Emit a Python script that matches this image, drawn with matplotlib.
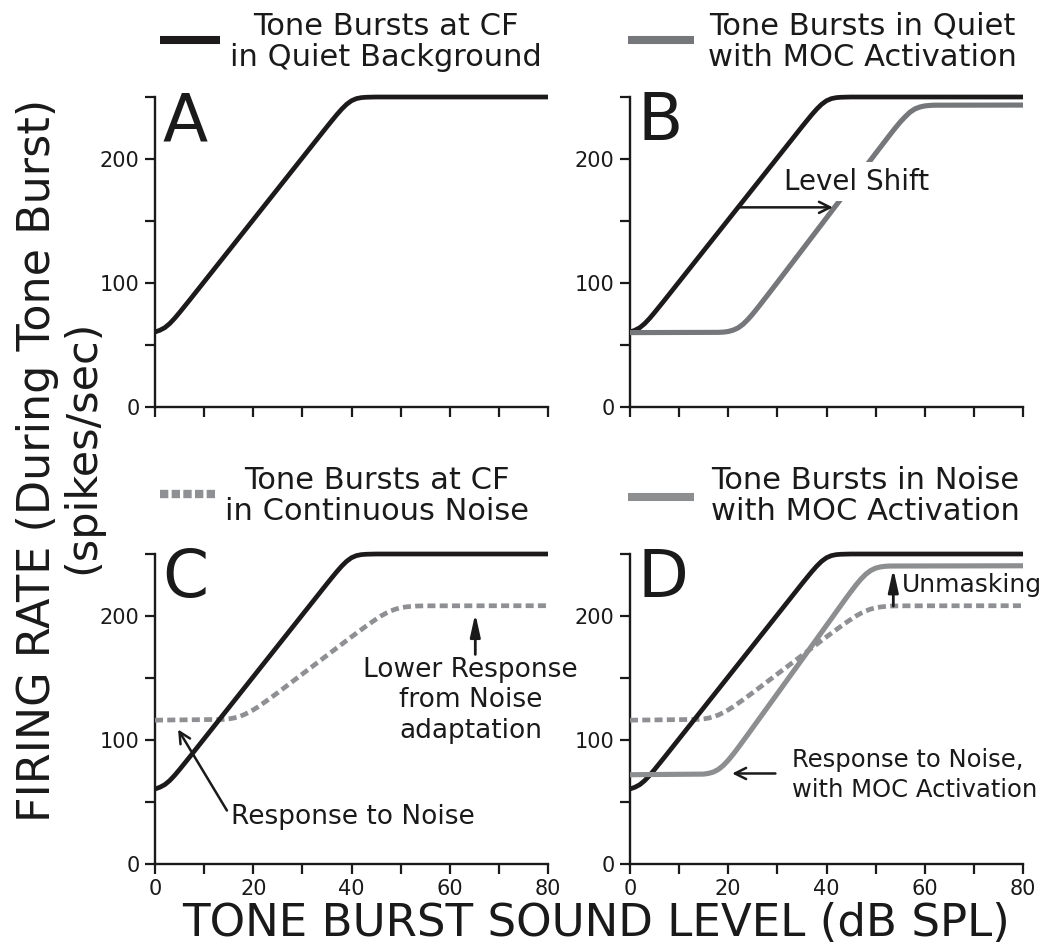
import numpy as np
import matplotlib
matplotlib.use("Agg")
import matplotlib.pyplot as plt
from matplotlib.lines import Line2D

plt.rcParams["font.family"] = ["DejaVu Sans"]

# ---- rate-level functions (dB SPL -> spikes/sec) ----
level_quiet = [0, 1, 2, 3, 4, 5, 6, 7, 8, 10, 20, 30, 35, 36, 37, 38, 39, 40, 41, 42, 43, 44,
               45, 80]
rate_quiet = [60.5, 61.9, 64, 67.3, 71.5, 76.2, 81.1, 86, 91, 101, 151, 201, 226, 230.9, 235.7,
              240.2, 244.1, 247, 248.7, 249.5, 249.8, 249.9, 250, 250]

level_moc_quiet = [0, 18, 19, 20, 21, 22, 23, 24, 25, 26, 27, 28, 30, 40, 50, 53, 54, 55, 56, 57,
                   58, 59, 60, 61, 62, 80]
rate_moc_quiet = [60, 60.2, 60.4, 60.9, 62, 63.8, 66.7, 70.6, 75.1, 80, 85.1, 90.2, 100.5, 152.5,
                  204.5, 220, 225, 229.8, 234, 237.8, 240.4, 241.9, 242.8, 243.2, 243.4, 243.5]

level_noise = [0, 14, 15, 16, 17, 18, 19, 20, 21, 22, 23, 24, 25, 30, 40, 43, 44, 45, 46, 47, 48,
               49, 50, 51, 52, 53, 55, 80]
rate_noise = [116, 116.6, 117, 117.7, 118.7, 120.2, 122.1, 124.3, 126.8, 129.6, 132.4, 135.3,
              138.2, 153.2, 183.2, 191.9, 194.7, 197.4, 200, 202.2, 204.1, 205.6, 206.6, 207.3,
              207.7, 208, 208.2, 208.3]

level_moc_noise = [0, 15, 16, 17, 18, 19, 20, 21, 22, 23, 24, 25, 30, 40, 44, 45, 46, 47, 48, 49,
                   50, 51, 52, 53, 80]
rate_moc_noise = [72, 72.5, 73.1, 74.2, 76.3, 79.5, 83.7, 88.5, 93.7, 99.1, 104.5, 110, 137.4,
                  192.4, 214.5, 219.8, 225, 229.7, 233.7, 236.7, 238.6, 239.6, 240.1, 240.3,
                  240.5]

x_ticks = [0, 10, 20, 30, 40, 50, 60, 70, 80]
x_ticklabels = ["0", "", "20", "", "40", "", "60", "", "80"]
y_ticks = [0, 50, 100, 150, 200, 250]
y_ticklabels = ["0", "", "100", "", "200", ""]

panel_letters = ["A", "B", "C", "D"]
header_texts = ["Tone Bursts at CF\nin Quiet Background",
                "Tone Bursts in Quiet\nwith MOC Activation",
                "Tone Bursts at CF\nin Continuous Noise",
                "Tone Bursts in Noise\nwith MOC Activation"]

BLACK = "#1c1a1b"
GRAY_B = "#76777a"
GRAY_D = "#8d8e90"
GRAY_DASH = "#8f9093"
TXT = "#1a1a1a"

W, H = 1050, 949
fig = plt.figure(figsize=(W / 100, H / 100), dpi=100)


def fx(px):
    return px / W


def fy(py):
    return 1 - py / H


axw, axh = 393 / W, 310 / H
axA = fig.add_axes([fx(155), fy(407), axw, axh])
axB = fig.add_axes([fx(630), fy(407), axw, axh])
axC = fig.add_axes([fx(155), fy(864), axw, axh])
axD = fig.add_axes([fx(630), fy(864), axw, axh])
axes = [axA, axB, axC, axD]

for i, ax in enumerate(axes):
    ax.set_xlim(0, 80)
    ax.set_ylim(0, 250)
    for s in ("top", "right"):
        ax.spines[s].set_visible(False)
    for s in ("left", "bottom"):
        ax.spines[s].set_linewidth(1.7)
        ax.spines[s].set_color(TXT)
    ax.set_xticks(x_ticks)
    ax.set_yticks(y_ticks)
    ax.set_yticklabels(y_ticklabels)
    if i >= 2:
        ax.set_xticklabels(x_ticklabels)
    else:
        ax.set_xticklabels([])
    ax.tick_params(direction="out", length=7.5, width=1.6, labelsize=15, pad=3.5,
                   colors=TXT)
    ax.text(1.5, 215, panel_letters[i], fontsize=47.5, color=TXT, ha="left", va="baseline")

line_kw = dict(clip_on=False, solid_capstyle="butt")
dash_kw = dict(clip_on=False, linestyle=(0, (1.7, 0.9)), dash_capstyle="butt")

# A: quiet background
axA.plot(level_quiet, rate_quiet, color=BLACK, lw=3.4, zorder=4, **line_kw)

# B: quiet with MOC activation
axB.plot(level_quiet, rate_quiet, color=BLACK, lw=3.4, zorder=3, **line_kw)
axB.plot(level_moc_quiet, rate_moc_quiet, color=GRAY_B, lw=3.7, zorder=4, **line_kw)
axB.text(46.2, 181.5, "Level Shift", fontsize=20, color=TXT, ha="center", va="center",
         zorder=6, bbox=dict(facecolor="white", edgecolor="none", boxstyle="square,pad=0.2"))
axB.annotate("", xy=(41.3, 161), xytext=(22, 161), zorder=7,
             arrowprops=dict(arrowstyle="->", lw=1.8, color=TXT, shrinkA=0, shrinkB=0,
                             mutation_scale=20))

# C: continuous noise
axC.plot(level_noise, rate_noise, color=GRAY_DASH, lw=3.4, zorder=3, **dash_kw)
axC.plot(level_quiet, rate_quiet, color=BLACK, lw=3.4, zorder=4, **line_kw)
axC.annotate("Response to Noise", xy=(4.7, 108.5), xytext=(15.5, 37.5), fontsize=19,
             color=TXT, ha="left", va="center",
             arrowprops=dict(arrowstyle="->", lw=1.8, color=TXT, shrinkA=2, shrinkB=0,
                             mutation_scale=20, relpos=(0, 0.5)))
axC.text(64.2, 132, "Lower Response\nfrom Noise\nadaptation", fontsize=19, color=TXT,
         ha="center", va="center", multialignment="center", linespacing=1.22)
axC.annotate("", xy=(65.2, 202), xytext=(65.2, 169),
             arrowprops=dict(arrowstyle="-|>,head_width=0.2,head_length=0.9", lw=2,
                             color=TXT, shrinkA=0, shrinkB=0, mutation_scale=15))

# D: noise with MOC activation
axD.plot(level_noise, rate_noise, color=GRAY_DASH, lw=3.4, zorder=3, **dash_kw)
axD.plot(level_quiet, rate_quiet, color=BLACK, lw=3.4, zorder=4, **line_kw)
axD.plot(level_moc_noise, rate_moc_noise, color=GRAY_D, lw=3.7, zorder=5, **line_kw)
axD.annotate("", xy=(53.6, 238), xytext=(53.6, 208),
             arrowprops=dict(arrowstyle="-|>,head_width=0.2,head_length=0.9", lw=2,
                             color=TXT, shrinkA=0, shrinkB=0, mutation_scale=15))
axD.text(55.3, 225, "Unmasking", fontsize=18, color=TXT, ha="left", va="center")
axD.text(33.0, 72, "Response to Noise,\nwith MOC Activation", fontsize=17.5, color=TXT,
         ha="left", va="center", linespacing=1.3)
axD.annotate("", xy=(20.8, 73), xytext=(29.6, 73),
             arrowprops=dict(arrowstyle="->", lw=1.8, color=TXT, shrinkA=0, shrinkB=0,
                             mutation_scale=20))

# ---- headers with line samples ----
fig.add_artist(Line2D([fx(160), fx(220)], [fy(40), fy(40)], lw=5.8, color=BLACK,
                      solid_capstyle="butt", transform=fig.transFigure))
fig.add_artist(Line2D([fx(628), fx(694)], [fy(40), fy(40)], lw=5.8, color=GRAY_B,
                      solid_capstyle="butt", transform=fig.transFigure))
fig.add_artist(Line2D([fx(160), fx(215)], [fy(494), fy(494)], lw=6, color=GRAY_DASH,
                      linestyle=(0, (1, 0.4)), dash_capstyle="butt",
                      transform=fig.transFigure))
fig.add_artist(Line2D([fx(628), fx(694)], [fy(497), fy(497)], lw=5.8, color=GRAY_D,
                      solid_capstyle="butt", transform=fig.transFigure))

header_pos = [(386, 42), (862, 42), (377, 496), (865, 496)]
for (px, py), txt in zip(header_pos, header_texts):
    fig.text(fx(px), fy(py), txt, fontsize=22, color=TXT, ha="center", va="center",
             multialignment="center", linespacing=1.12)

# ---- shared axis titles ----
fig.text(fx(596), fy(936), "TONE BURST SOUND LEVEL (dB SPL)", fontsize=32.5, color=TXT,
         ha="center", va="baseline")
fig.text(fx(38), fy(460), "FIRING RATE (During Tone Burst)", fontsize=32, color=TXT,
         rotation=90, ha="center", va="center")
fig.text(fx(82), fy(447), "(spikes/sec)", fontsize=31, color=TXT, rotation=90,
         ha="center", va="center")

fig.savefig("out.png", dpi=100, facecolor="white")
